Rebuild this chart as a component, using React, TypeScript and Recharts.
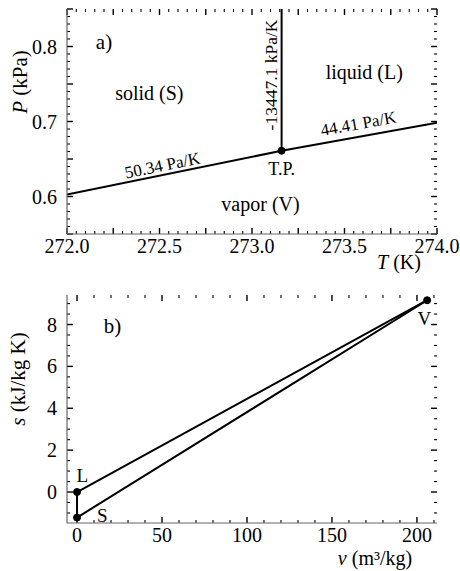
import { ComposedChart, Line, XAxis, YAxis, ReferenceDot, ReferenceLine } from "recharts";

const FONT = "Liberation Serif, DejaVu Serif, serif";
const INK = "#000";
const FRAME = "#666";

// a) P-T diagram close to the triple point
const tripleT = 273.16;
const tripleP = 0.661;
const sublimationT = [272.0, 273.16];
const sublimationP = [0.6026, 0.661];
const vaporizationT = [273.16, 274.0];
const vaporizationP = [0.661, 0.6983];
const fusionT = [273.16, 273.16];
const fusionP = [0.661, 0.85];

const tLabels = [272.0, 272.5, 273.0, 273.5, 274.0];
const tMajor = [272.25, 272.75, 273.25, 273.75];
const pLabels = [0.6, 0.7, 0.8];
const pMajor = [0.55, 0.65, 0.75, 0.85];

// b) s-v diagram, the three phases at the triple point
const phaseNames = ["L", "S", "V"];
const phaseV = [0.001, 0.00109, 206.0];
const phaseS = [0.0, -1.22, 9.16];

const vLabels = [0, 50, 100, 150, 200];
const sLabels = [0, 2, 4, 6, 8];

const steps = (from: number, to: number, step: number) => {
  const out: number[] = [];
  for (let v = from; v <= to + step / 2; v += step) out.push(Math.round(v * 1e4) / 1e4);
  return out;
};

const pts = (xs: number[], ys: number[]) => xs.map((x, i) => ({ x, y: ys[i] }));
const inList = (arr: number[], v: number) => arr.some((a) => Math.abs(a - v) < 1e-6);
const textStyle = (size: number) => ({ fontFamily: FONT, fontSize: size, fill: INK });

// tick labels only; the tick marks themselves are drawn as reference segments
const labelTick =
  (side: "bottom" | "left", labels: number[], fmt: (v: number) => string, off: number) =>
  (props: any) => {
    const { x, y, payload } = props;
    const v = payload.value;
    if (!inList(labels, v)) return <g />;
    return side === "bottom" ? (
      <text x={x} y={y + off} textAnchor="middle" style={textStyle(20)}>
        {fmt(v)}
      </text>
    ) : (
      <text x={x - off} y={y} dy="0.35em" textAnchor="end" style={textStyle(20)}>
        {fmt(v)}
      </text>
    );
  };

// inward frame ticks on all four sides, lengths given in pixels
const frameTicks = (
  xTicks: number[],
  xBig: number[],
  yTicks: number[],
  yBig: number[],
  xDom: [number, number],
  yDom: [number, number],
  plotW: number,
  plotH: number
) => {
  const ux = (xDom[1] - xDom[0]) / plotW;
  const uy = (yDom[1] - yDom[0]) / plotH;
  const out: any[] = [];
  xTicks.forEach((t, i) => {
    const big = inList(xBig, t);
    const h = (big ? 6 : 3) * uy;
    const sw = big ? 1.4 : 1.1;
    out.push(
      <ReferenceLine key={`xb${i}`} xAxisId="x" yAxisId="y" ifOverflow="visible" stroke={INK} strokeWidth={sw}
        segment={[{ x: t, y: yDom[0] }, { x: t, y: yDom[0] + h }]} />,
      <ReferenceLine key={`xt${i}`} xAxisId="x" yAxisId="y" ifOverflow="visible" stroke={INK} strokeWidth={sw}
        segment={[{ x: t, y: yDom[1] }, { x: t, y: yDom[1] - h }]} />
    );
  });
  yTicks.forEach((t, i) => {
    const big = inList(yBig, t);
    const w = (big ? 6 : 3) * ux;
    const sw = big ? 1.4 : 1.1;
    out.push(
      <ReferenceLine key={`yl${i}`} xAxisId="x" yAxisId="y" ifOverflow="visible" stroke={INK} strokeWidth={sw}
        segment={[{ x: xDom[0], y: t }, { x: xDom[0] + w, y: t }]} />,
      <ReferenceLine key={`yr${i}`} xAxisId="x" yAxisId="y" ifOverflow="visible" stroke={INK} strokeWidth={sw}
        segment={[{ x: xDom[1], y: t }, { x: xDom[1] - w, y: t }]} />
    );
  });
  return out;
};

const note = (key: string, x: number, y: number, text: string, size: number, angle = 0) => (
  <ReferenceDot
    key={key}
    x={x}
    y={y}
    r={1}
    xAxisId="x"
    yAxisId="y"
    ifOverflow="visible"
    shape={(p: any) => (
      <text
        x={p.cx}
        y={p.cy}
        textAnchor="middle"
        dominantBaseline="central"
        style={textStyle(size)}
        transform={angle ? `rotate(${angle} ${p.cx} ${p.cy})` : undefined}
      >
        {text}
      </text>
    )}
  />
);

const dot = (key: string, x: number, y: number) => (
  <ReferenceDot key={key} x={x} y={y} r={3.5} fill={INK} stroke={INK} xAxisId="x" yAxisId="y" ifOverflow="visible" />
);

const tTicks = steps(272, 274, 0.05);
const pTicks = steps(0.55, 0.85, 0.01);
const vTicks = steps(0, 210, 10);
const sTicks = steps(-1, 9, 0.5);

const axisCommon = {
  type: "number" as const,
  allowDataOverflow: true,
  interval: 0 as const,
  tickSize: 0,
  tickMargin: 0,
  tickLine: false,
  axisLine: { stroke: FRAME, strokeWidth: 1.2 },
};

const W = 460;
const ML = 67;
const MR = 23;

function PhaseDiagram() {
  const f1 = (v: number) => v.toFixed(1);
  const H = 285;
  const top = 9;
  const xh = 51;
  const tDom: [number, number] = [272, 274];
  const pDom: [number, number] = [0.55, 0.85];
  return (
    <ComposedChart width={W} height={H} margin={{ top, right: MR, bottom: 0, left: 0 }}>
      <XAxis
        {...axisCommon}
        xAxisId="x"
        dataKey="x"
        domain={tDom}
        ticks={tLabels}
        height={xh}
        tick={labelTick("bottom", tLabels, f1, 19)}
        label={(p: any) => (
          <text x={p.viewBox.x + p.viewBox.width - 38} y={p.viewBox.y + 28} dominantBaseline="central" textAnchor="middle" style={textStyle(20)}>
            <tspan fontStyle="italic">T</tspan> (K)
          </text>
        )}
      />
      <XAxis {...axisCommon} xAxisId="xt" dataKey="x" orientation="top" domain={tDom} height={0} tick={false} />
      <YAxis
        {...axisCommon}
        yAxisId="y"
        domain={pDom}
        ticks={pLabels}
        width={ML}
        tick={labelTick("left", pLabels, f1, 10)}
        label={() => (
          <text x={20} y={82} transform="rotate(-90 20 82)" dominantBaseline="central" textAnchor="middle" style={textStyle(21)}>
            <tspan fontStyle="italic">P</tspan> (kPa)
          </text>
        )}
      />
      <YAxis {...axisCommon} yAxisId="yr" orientation="right" domain={pDom} width={0} tick={false} />
      {frameTicks(tTicks, [...tLabels, ...tMajor], pTicks, [...pLabels, ...pMajor], tDom, pDom, W - ML - MR, H - top - xh)}
      <Line xAxisId="x" yAxisId="y" data={pts(sublimationT, sublimationP)} dataKey="y" stroke={INK} strokeWidth={2} dot={false} isAnimationActive={false} />
      <Line xAxisId="x" yAxisId="y" data={pts(vaporizationT, vaporizationP)} dataKey="y" stroke={INK} strokeWidth={2} dot={false} isAnimationActive={false} />
      <Line xAxisId="x" yAxisId="y" data={pts(fusionT, fusionP)} dataKey="y" stroke={INK} strokeWidth={2} dot={false} isAnimationActive={false} />
      {dot("tp", tripleT, tripleP)}
      {note("a", 272.2, 0.806, "a)", 21)}
      {note("solid", 272.445, 0.738, "solid (S)", 20)}
      {note("liquid", 273.607, 0.766, "liquid (L)", 20)}
      {note("vapor", 273.046, 0.5895, "vapor (V)", 20)}
      {note("tpl", 273.16, 0.6367, "T.P.", 18)}
      {note("sub", 272.516, 0.6413, "50.34 Pa/K", 17, -11.5)}
      {note("vap", 273.575, 0.697, "44.41 Pa/K", 17, -10.2)}
      {note("fus", 273.102, 0.762, "-13447.1 kPa/K", 17.5, -90)}
    </ComposedChart>
  );
}

function EntropyDiagram() {
  const f0 = (v: number) => String(v);
  const L = 0;
  const S = 1;
  const V = 2;
  const H = 286;
  const top = 10;
  const xh = 48;
  const vDom: [number, number] = [-5.9, 211.8];
  const sDom: [number, number] = [-1.48, 9.41];
  return (
    <ComposedChart width={W} height={H} margin={{ top, right: MR, bottom: 0, left: 0 }}>
      <XAxis
        {...axisCommon}
        xAxisId="x"
        dataKey="x"
        domain={vDom}
        ticks={vLabels}
        height={xh}
        tick={labelTick("bottom", vLabels, f0, 19)}
        label={(p: any) => (
          <text x={p.viewBox.x + p.viewBox.width - 62} y={p.viewBox.y + 35} dominantBaseline="central" textAnchor="middle" style={textStyle(20)}>
            <tspan fontStyle="italic">v</tspan> (m³/kg)
          </text>
        )}
      />
      <XAxis {...axisCommon} xAxisId="xt" dataKey="x" orientation="top" domain={vDom} height={0} tick={false} />
      <YAxis
        {...axisCommon}
        yAxisId="y"
        domain={sDom}
        ticks={sLabels}
        width={ML}
        tick={labelTick("left", sLabels, f0, 10)}
        label={() => (
          <text x={18} y={94} transform="rotate(-90 18 94)" dominantBaseline="central" textAnchor="middle" style={textStyle(21)}>
            <tspan fontStyle="italic">s</tspan> (kJ/kg K)
          </text>
        )}
      />
      <YAxis {...axisCommon} yAxisId="yr" orientation="right" domain={sDom} width={0} tick={false} />
      {frameTicks(vTicks, vLabels, sTicks, sLabels, vDom, sDom, W - ML - MR, H - top - xh)}
      <Line xAxisId="x" yAxisId="y" data={pts([phaseV[L], phaseV[V]], [phaseS[L], phaseS[V]])} dataKey="y" stroke={INK} strokeWidth={2} dot={false} isAnimationActive={false} />
      <Line xAxisId="x" yAxisId="y" data={pts([phaseV[S], phaseV[V]], [phaseS[S], phaseS[V]])} dataKey="y" stroke={INK} strokeWidth={2} dot={false} isAnimationActive={false} />
      <Line xAxisId="x" yAxisId="y" data={pts([phaseV[L], phaseV[S]], [phaseS[L], phaseS[S]])} dataKey="y" stroke={INK} strokeWidth={2} dot={false} isAnimationActive={false} />
      {phaseV.map((v, i) => dot(`p${i}`, v, phaseS[i]))}
      {note("b", 20.8, 7.93, "b)", 21)}
      {note("lL", 3.1, 0.8, phaseNames[L], 19)}
      {note("lS", 14.9, -1.14, phaseNames[S], 19)}
      {note("lV", 204.4, 8.29, phaseNames[V], 19)}
    </ComposedChart>
  );
}

export default function App() {
  return (
    <div style={{ position: "absolute", left: 0, top: 0, width: 460, height: 571, background: "#fff", fontFamily: FONT }}>
      <PhaseDiagram />
      <EntropyDiagram />
    </div>
  );
}
